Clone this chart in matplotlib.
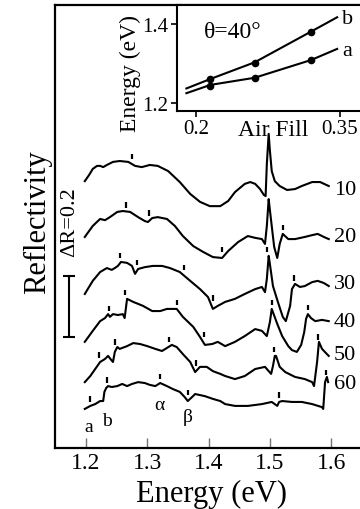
import numpy as np
import matplotlib
matplotlib.use('Agg')
import matplotlib.pyplot as plt

plt.rcParams['font.family'] = ['Liberation Serif', 'DejaVu Serif']

# =============================================================================
# DATA - reflectivity spectra, offset vertically, one per incidence angle
# =============================================================================

angle_labels = ['10', '20', '30', '40', '50', '60']
label_refl = [0.849, 0.692, 0.538, 0.416, 0.308, 0.210]

energy_10 = [1.198, 1.205, 1.211, 1.218, 1.223, 1.228, 1.234, 1.244, 1.255, 1.269,
             1.280, 1.291, 1.304, 1.317, 1.334, 1.353, 1.370, 1.386, 1.402, 1.419,
             1.432, 1.443, 1.459, 1.468, 1.476, 1.484, 1.490, 1.493, 1.495, 1.498,
             1.500, 1.503, 1.508, 1.516, 1.528, 1.541, 1.552, 1.569, 1.582, 1.596]
refl_10 = [0.875, 0.895, 0.915, 0.925, 0.925, 0.921, 0.928, 0.938, 0.941, 0.938,
           0.925, 0.921, 0.928, 0.925, 0.908, 0.872, 0.833, 0.807, 0.793, 0.793,
           0.810, 0.839, 0.866, 0.872, 0.866, 0.849, 0.830, 0.826, 0.931, 1.030,
           0.975, 0.908, 0.875, 0.859, 0.846, 0.849, 0.859, 0.872, 0.872, 0.859]
ticks_10 = [1.275]

energy_20 = [1.198, 1.211, 1.223, 1.231, 1.239, 1.251, 1.260, 1.272, 1.285, 1.296,
             1.301, 1.308, 1.317, 1.332, 1.345, 1.358, 1.375, 1.391, 1.407, 1.422,
             1.432, 1.448, 1.464, 1.476, 1.487, 1.492, 1.495, 1.498, 1.500, 1.503,
             1.507, 1.512, 1.516, 1.521, 1.530, 1.541, 1.557, 1.569, 1.578, 1.588,
             1.596]
refl_20 = [0.692, 0.728, 0.751, 0.747, 0.757, 0.774, 0.777, 0.774, 0.757, 0.744,
           0.741, 0.754, 0.757, 0.751, 0.728, 0.695, 0.662, 0.643, 0.626, 0.623,
           0.646, 0.675, 0.695, 0.689, 0.685, 0.669, 0.728, 0.816, 0.780, 0.728,
           0.659, 0.623, 0.669, 0.702, 0.685, 0.685, 0.692, 0.698, 0.702, 0.692,
           0.685]
ticks_20 = [1.265, 1.303, 1.422, 1.521]

energy_30 = [1.198, 1.211, 1.223, 1.234, 1.242, 1.247, 1.252, 1.257, 1.267, 1.275,
             1.280, 1.285, 1.296, 1.309, 1.324, 1.337, 1.353, 1.370, 1.386, 1.399,
             1.407, 1.415, 1.427, 1.443, 1.459, 1.476, 1.487, 1.492, 1.495, 1.498,
             1.500, 1.505, 1.513, 1.521, 1.526, 1.533, 1.536, 1.541, 1.549, 1.557,
             1.569, 1.578, 1.588, 1.596]
refl_30 = [0.505, 0.548, 0.577, 0.590, 0.584, 0.590, 0.597, 0.610, 0.607, 0.597,
           0.571, 0.587, 0.593, 0.597, 0.597, 0.590, 0.577, 0.548, 0.521, 0.495,
           0.456, 0.466, 0.479, 0.489, 0.505, 0.521, 0.528, 0.511, 0.554, 0.630,
           0.603, 0.531, 0.479, 0.430, 0.416, 0.466, 0.521, 0.538, 0.528, 0.531,
           0.544, 0.548, 0.541, 0.531]
ticks_30 = [1.255, 1.283, 1.360, 1.407, 1.495, 1.539]

energy_40 = [1.198, 1.211, 1.223, 1.231, 1.236, 1.239, 1.244, 1.252, 1.260, 1.263,
             1.267, 1.277, 1.293, 1.308, 1.321, 1.332, 1.348, 1.358, 1.375, 1.386,
             1.394, 1.406, 1.415, 1.427, 1.443, 1.459, 1.476, 1.487, 1.495, 1.500,
             1.503, 1.512, 1.520, 1.530, 1.536, 1.544, 1.551, 1.556, 1.559, 1.562,
             1.567, 1.574, 1.585, 1.596]
refl_40 = [0.348, 0.384, 0.416, 0.426, 0.439, 0.430, 0.439, 0.436, 0.439, 0.426,
           0.489, 0.479, 0.466, 0.449, 0.449, 0.456, 0.456, 0.430, 0.397, 0.364,
           0.338, 0.341, 0.348, 0.334, 0.348, 0.367, 0.390, 0.384, 0.367, 0.413,
           0.456, 0.407, 0.367, 0.334, 0.321, 0.315, 0.338, 0.380, 0.423, 0.439,
           0.426, 0.416, 0.420, 0.416]
ticks_40 = [1.238, 1.264, 1.348, 1.393, 1.503, 1.562]

energy_50 = [1.198, 1.207, 1.215, 1.223, 1.231, 1.236, 1.241, 1.244, 1.247, 1.251,
             1.255, 1.267, 1.277, 1.288, 1.300, 1.313, 1.324, 1.332, 1.340, 1.348,
             1.358, 1.370, 1.378, 1.386, 1.397, 1.407, 1.419, 1.427, 1.443, 1.459,
             1.476, 1.492, 1.502, 1.505, 1.508, 1.510, 1.516, 1.525, 1.541, 1.557,
             1.569, 1.572, 1.577, 1.580, 1.585, 1.593, 1.596]
refl_50 = [0.216, 0.236, 0.259, 0.282, 0.292, 0.302, 0.289, 0.282, 0.315, 0.331,
           0.325, 0.334, 0.344, 0.341, 0.334, 0.325, 0.318, 0.328, 0.338, 0.331,
           0.308, 0.282, 0.249, 0.266, 0.266, 0.252, 0.243, 0.236, 0.226, 0.236,
           0.259, 0.266, 0.243, 0.269, 0.302, 0.302, 0.266, 0.249, 0.233, 0.226,
           0.216, 0.203, 0.282, 0.348, 0.325, 0.308, 0.302]
ticks_50 = [1.221, 1.247, 1.335, 1.379, 1.507, 1.578]

energy_60 = [1.198, 1.207, 1.215, 1.223, 1.228, 1.230, 1.233, 1.236, 1.242, 1.251,
             1.259, 1.267, 1.275, 1.285, 1.296, 1.304, 1.313, 1.321, 1.332, 1.342,
             1.353, 1.361, 1.366, 1.373, 1.378, 1.394, 1.407, 1.419, 1.427, 1.443,
             1.464, 1.487, 1.503, 1.512, 1.515, 1.520, 1.536, 1.552, 1.569, 1.585,
             1.587, 1.590, 1.593, 1.595]
refl_60 = [0.128, 0.138, 0.144, 0.154, 0.154, 0.184, 0.197, 0.203, 0.200, 0.203,
           0.210, 0.203, 0.210, 0.216, 0.213, 0.207, 0.203, 0.213, 0.203, 0.193,
           0.184, 0.167, 0.154, 0.167, 0.177, 0.170, 0.161, 0.154, 0.144, 0.138,
           0.138, 0.144, 0.151, 0.138, 0.151, 0.154, 0.151, 0.151, 0.144, 0.134,
           0.128, 0.216, 0.233, 0.216]
ticks_60 = [1.207, 1.234, 1.321, 1.366, 1.515, 1.592]

# feature labels under the 60 degree curve
feature_names = ['a', 'b', 'α', 'β']
feature_energy = [1.205, 1.234, 1.319, 1.366]
feature_refl = [0.069, 0.089, 0.144, 0.102]

# =============================================================================
# DATA - inset, mode energies vs air fill fraction
# =============================================================================

air_fill = [0.215, 0.261, 0.320]
energy_a = [1.243, 1.263, 1.309]
energy_b = [1.261, 1.301, 1.381]

fit_fill = [0.190, 0.215, 0.261, 0.320, 0.347]
fit_a = [1.225, 1.246, 1.264, 1.309, 1.337]
fit_b = [1.237, 1.261, 1.303, 1.381, 1.417]


# =============================================================================
# PLOT
# =============================================================================

fig = plt.figure(figsize=(3.6, 5.1), dpi=100)
ax = fig.add_axes([55 / 360, 1 - 449 / 510, 1 - 55 / 360, 443 / 510])

curves = [(energy_10, refl_10, ticks_10), (energy_20, refl_20, ticks_20),
          (energy_30, refl_30, ticks_30), (energy_40, refl_40, ticks_40),
          (energy_50, refl_50, ticks_50), (energy_60, refl_60, ticks_60)]

for (e, r, tk), name, ly in zip(curves, angle_labels, label_refl):
    ax.plot(e, r, color='k', lw=1.5, solid_joinstyle='round')
    # small markers above the spectral features
    for t in tk:
        base = max(np.interp([t - 0.003, t, t + 0.003], e, r))
        ax.plot([t, t], [base + 0.012, base + 0.030], color='k', lw=1.6,
                solid_capstyle='butt')
    ax.text(1.604, ly, name, ha='left', va='center', fontsize=16)

for name, fe, fr in zip(feature_names, feature_energy, feature_refl):
    ax.text(fe, fr, name, ha='center', va='center', fontsize=14)

# scale bar
ax.errorbar([1.1715], [0.464], yerr=[0.1], color='k', lw=1.5,
            capsize=4.3, capthick=1.5)
ax.text(1.1725, 0.744, 'ΔR=0.2', rotation=90, ha='center', va='center',
        fontsize=16)

ax.set_xlim(1.1494, 1.647)
ax.set_ylim(0, 1.4525)
ax.set_xticks([1.2, 1.3, 1.4, 1.5, 1.6])
ax.set_yticks([])
ax.tick_params(axis='x', direction='in', length=7, width=1, color='0.45',
               labelsize=17, pad=3)
ax.spines['right'].set_visible(False)
for s in ['left', 'bottom', 'top']:
    ax.spines[s].set_linewidth(1.6)

fig.text(38 / 360, 1 - 222 / 510, 'Reflectivity', rotation=90,
         ha='center', va='center', fontsize=22)
fig.text(211 / 360, 1 - 494 / 510, 'Energy (eV)', ha='center', va='center',
         fontsize=22)

# ── inset ─────────────────────────────────────────
axin = fig.add_axes([177 / 360, 1 - 112 / 510, 1 - 177 / 360, 106 / 510])
axin.plot(fit_fill, fit_b, color='k', lw=1.5)
axin.plot(fit_fill, fit_a, color='k', lw=1.5)
axin.plot(air_fill, energy_b, 'o', color='k', ms=4.5)
axin.plot(air_fill, energy_a, 'o', color='k', ms=4.5)
axin.text(0.352, 1.413, 'b', ha='left', va='center', fontsize=16)
axin.text(0.352, 1.334, 'a', ha='left', va='center', fontsize=16)
axin.set_xlim(0.1802, 0.3708)
axin.set_ylim(1.180, 1.448)
axin.set_xticks([0.2, 0.35])
axin.set_xticklabels(['0.2', '0.35'])
axin.set_yticks([1.2, 1.4])
axin.tick_params(direction='out', length=4, width=1.2, labelsize=15, pad=2)
axin.spines['right'].set_visible(False)
for s in ['left', 'bottom', 'top']:
    axin.spines[s].set_linewidth(1.5)

fig.text(233 / 360, 1 - 33 / 510, 'θ=40°', ha='center', va='center',
         fontsize=17)
fig.text(273 / 360, 1 - 131 / 510, 'Air Fill', ha='center', va='center',
         fontsize=17)
fig.text(130 / 360, 1 - 74 / 510, 'Energy (eV)', rotation=90, ha='center',
         va='center', fontsize=17)

fig.savefig('out.png', dpi=100)
